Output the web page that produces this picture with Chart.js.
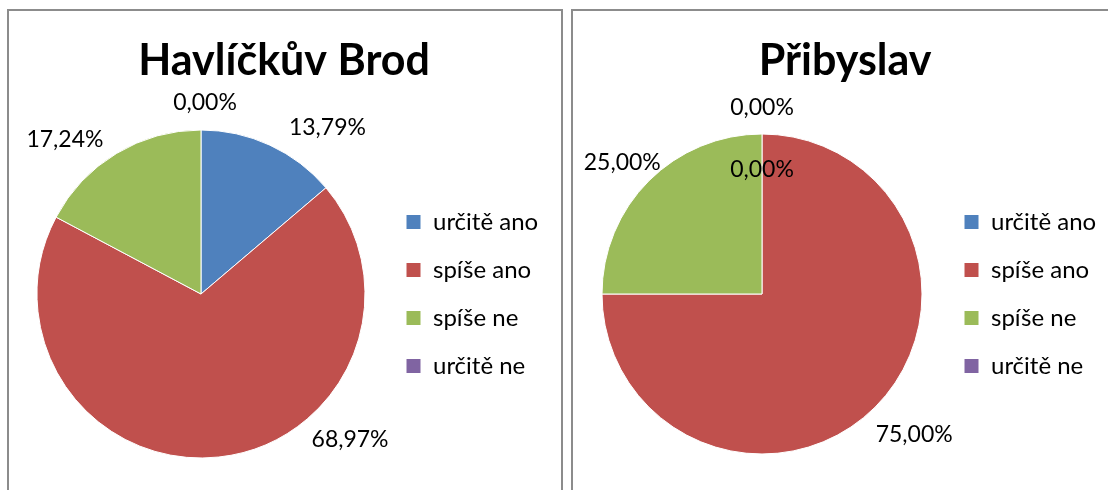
<!DOCTYPE html>
<html>
<head>
<meta charset="utf-8">
<script src="https://cdn.jsdelivr.net/npm/chart.js@4.4.0/dist/chart.umd.min.js"></script>
<style>
  html, body { margin: 0; padding: 0; background: #fff; overflow: hidden; width: 1108px; height: 490px; }
  .panel { position: absolute; top: 9px; border: 2px solid #8c8c8c; border-bottom: none; background: #fff; }
  #p1 { left: 7px; width: 552px; height: 481px; }
  #p2 { left: 571px; width: 544px; height: 481px; border-right: none; }
  canvas { display: block; }
</style>
</head>
<body>
<div class="panel" id="p1"><canvas id="chartBrod" width="552" height="479"></canvas></div>
<div class="panel" id="p2"><canvas id="chartPribyslav" width="544" height="479"></canvas></div>
<script>
// data
const categories = ['určitě ano', 'spíše ano', 'spíše ne', 'určitě ne'];
const valuesBrod = [13.79, 68.97, 17.24, 0.00];
const valuesPribyslav = [0.00, 75.00, 25.00, 0.00];
const sliceColors = ['#4F81BD', '#C0504D', '#9BBB59', '#8064A2'];

// where each percentage label sits: [angle from top in deg, distance as part of radius]
const labelPosBrod = [[37.2, 1.275], [134.4, 1.272], [318.7, 1.257], [1.2, 1.165]];
const labelPosPribyslav = [[0, 0.78], [132.8, 1.296], [313.3, 1.2], [0, 1.1625]];

Chart.defaults.font.family = 'Lato';
Chart.defaults.color = '#000';

const LEGEND_FONT = 24;
const LEGEND_PAD = 24;
const LEGEND_BOX = 15;

// measure widest legend text so the legend lands where we want it
const mctx = document.createElement('canvas').getContext('2d');
mctx.font = LEGEND_FONT + 'px Lato';
const maxTextW = Math.max(...categories.map(c => mctx.measureText(c).width));

function makeLabelPlugin(positions) {
    return {
        id: 'pieLabels',
        afterDatasetsDraw(chart) {
            const ctx = chart.ctx;
            const meta = chart.getDatasetMeta(0);
            const values = chart.data.datasets[0].data;
            ctx.save();
            ctx.font = '23px Lato';
            ctx.fillStyle = '#000';
            ctx.textAlign = 'center';
            ctx.textBaseline = 'middle';
            meta.data.forEach((arc, i) => {
                const a = positions[i][0] * Math.PI / 180;
                const r = arc.outerRadius * positions[i][1];
                const txt = values[i].toFixed(2).replace('.', ',') + '%';
                ctx.fillText(txt, arc.x + Math.sin(a) * r, arc.y - Math.cos(a) * r);
            });
            ctx.restore();
        }
    };
}

function makePie(id, title, values, labelPos, radius, centerX, boxX) {
    const canvas = document.getElementById(id);
    const W = canvas.width;
    const legendW = LEGEND_PAD + LEGEND_BOX + LEGEND_FONT / 2 + maxTextW + 10;
    const legendLeft = boxX - LEGEND_PAD;
    const padL = 2 * centerX - legendLeft;
    const padR = W - legendLeft - legendW;

    new Chart(canvas, {
        type: 'pie',
        data: {
            labels: categories,
            datasets: [{
                data: values,
                backgroundColor: sliceColors,
                borderColor: '#ffffff',
                borderWidth: 1
            }]
        },
        options: {
            responsive: false,
            animation: false,
            radius: radius,
            layout: { padding: { left: padL, right: padR, top: 0, bottom: 0 } },
            plugins: {
                title: {
                    display: true,
                    text: title,
                    font: { size: 43, weight: 'bold', family: 'Lato' },
                    color: '#000',
                    padding: { top: 24, bottom: 11.4 }
                },
                legend: {
                    position: 'right',
                    fullSize: false,
                    labels: {
                        boxWidth: LEGEND_BOX,
                        boxHeight: LEGEND_BOX,
                        padding: LEGEND_PAD,
                        font: { size: LEGEND_FONT }
                    }
                },
                tooltip: { enabled: false }
            }
        },
        plugins: [makeLabelPlugin(labelPos)]
    });
}

makePie('chartBrod', 'Havlíčkův Brod', valuesBrod, labelPosBrod, 164, 192, 397);
makePie('chartPribyslav', 'Přibyslav', valuesPribyslav, labelPosPribyslav, 160, 189, 391);
</script>
</body>
</html>
